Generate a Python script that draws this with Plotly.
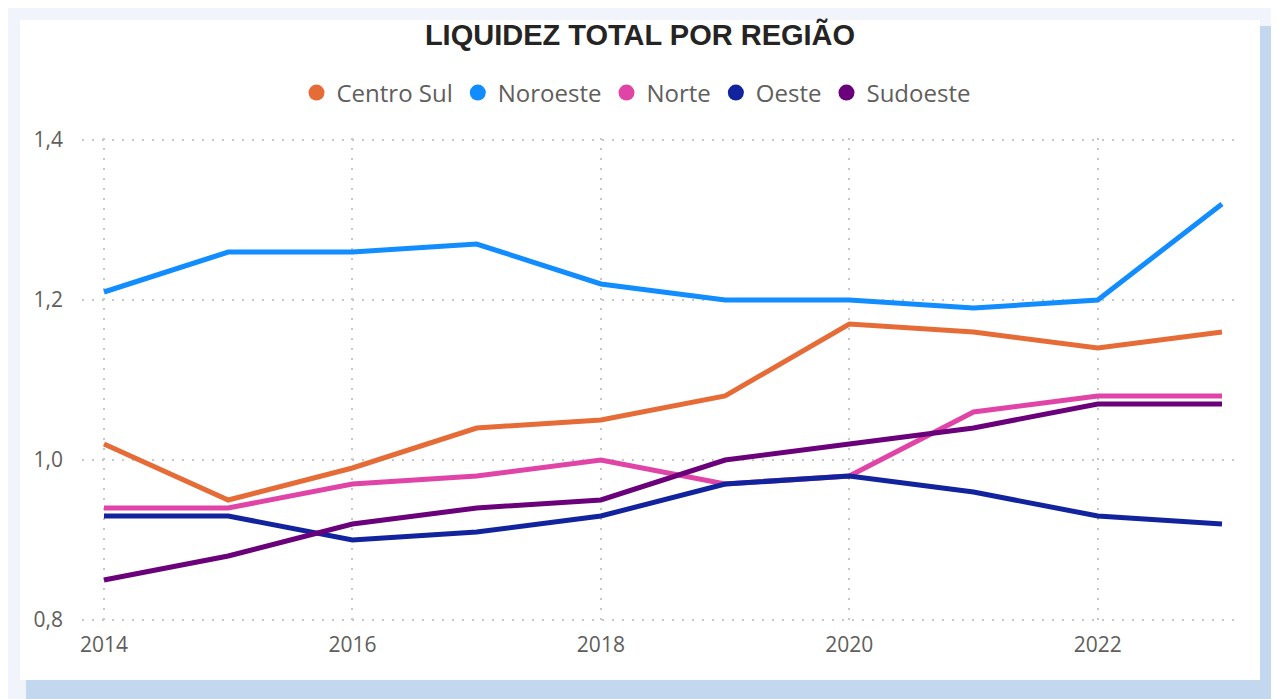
import plotly.graph_objects as go

anos = [2014, 2015, 2016, 2017, 2018, 2019, 2020, 2021, 2022, 2023]
regioes = ["Centro Sul", "Noroeste", "Norte", "Oeste", "Sudoeste"]
centro_sul = [1.02, 0.95, 0.99, 1.04, 1.05, 1.08, 1.17, 1.16, 1.14, 1.16]
noroeste = [1.21, 1.26, 1.26, 1.27, 1.22, 1.20, 1.20, 1.19, 1.20, 1.32]
norte = [0.94, 0.94, 0.97, 0.98, 1.00, 0.97, 0.98, 1.06, 1.08, 1.08]
oeste = [0.93, 0.93, 0.90, 0.91, 0.93, 0.97, 0.98, 0.96, 0.93, 0.92]
sudoeste = [0.85, 0.88, 0.92, 0.94, 0.95, 1.00, 1.02, 1.04, 1.07, 1.07]
series = [centro_sul, noroeste, norte, oeste, sudoeste]
cores = ["#E66C37", "#118DFF", "#E044A7", "#12239E", "#6B007B"]

W, H = 1279, 699
OFF = 8  # page body margin offset
L, R, T, B = 82 - OFF, 1240 - OFF, 138 - OFF, 622 - OFF

fig = go.Figure()
for nome, vals, cor in zip(regioes, series, cores):
    fig.add_trace(go.Scatter(x=anos, y=vals, mode="lines", name=nome,
                             line=dict(color=cor, width=5), legendgroup=nome,
                             showlegend=False))
for nome, cor in zip(regioes, cores):
    fig.add_trace(go.Scatter(x=[None], y=[None], mode="markers", name=nome,
                             marker=dict(color=cor, size=17, symbol="circle"),
                             legendgroup=nome, showlegend=True))

def px(x):
    return (x - OFF - L) / (R - L)

def py(y):
    return (B - (y - OFF)) / (B - T)

shapes = [
    dict(type="rect", xref="paper", yref="paper", x0=px(26), x1=px(W + 20), y0=py(26), y1=py(H + 20),
         fillcolor="#C3D8EF", line=dict(width=0), layer="below"),
    dict(type="rect", xref="paper", yref="paper", x0=px(20), x1=px(1260), y0=py(20), y1=py(680),
         fillcolor="#FFFFFF", line=dict(width=0), layer="below"),
]

fig.update_layout(
    width=W, height=H,
    margin=dict(l=L, r=W - R, t=T, b=H - B, autoexpand=False),
    paper_bgcolor="#F1F5FB",
    plot_bgcolor="rgba(0,0,0,0)",
    separators=", ",
    shapes=shapes,
    title=dict(text="<b>LIQUIDEZ TOTAL POR REGIÃO</b>", x=(640 - OFF) / W, xref="container",
               y=1 - (35 - OFF) / H, yref="container", xanchor="center", yanchor="middle",
               font=dict(family="Liberation Sans, Arial", size=29, color="#252423")),
    legend=dict(orientation="h", x=(636 - OFF) / W, xref="container", xanchor="center",
                y=1 - (93 - OFF) / H, yref="container", yanchor="middle",
                font=dict(family="Open Sans", size=24, color="#605E5C"),
                bgcolor="rgba(0,0,0,0)", itemwidth=30, tracegroupgap=0),
    xaxis=dict(range=[2013.823, 2023.145], tick0=2014, dtick=2, tickformat="d",
               showgrid=True, gridcolor="#C8C6C4", griddash="2px,8px", gridwidth=1.5,
               zeroline=False, showline=False, ticks="", ticklabelstandoff=8,
               tickfont=dict(family="Open Sans", size=21, color="#605E5C")),
    yaxis=dict(range=[0.7975, 1.4025], tick0=0.8, dtick=0.2, tickformat=".1f",
               showgrid=True, gridcolor="#C8C6C4", griddash="2px,8px", gridwidth=1.5,
               zeroline=False, showline=False, ticks="", ticklabelstandoff=18,
               tickfont=dict(family="Open Sans", size=21, color="#605E5C")),
)

fig.write_html("out.html")
